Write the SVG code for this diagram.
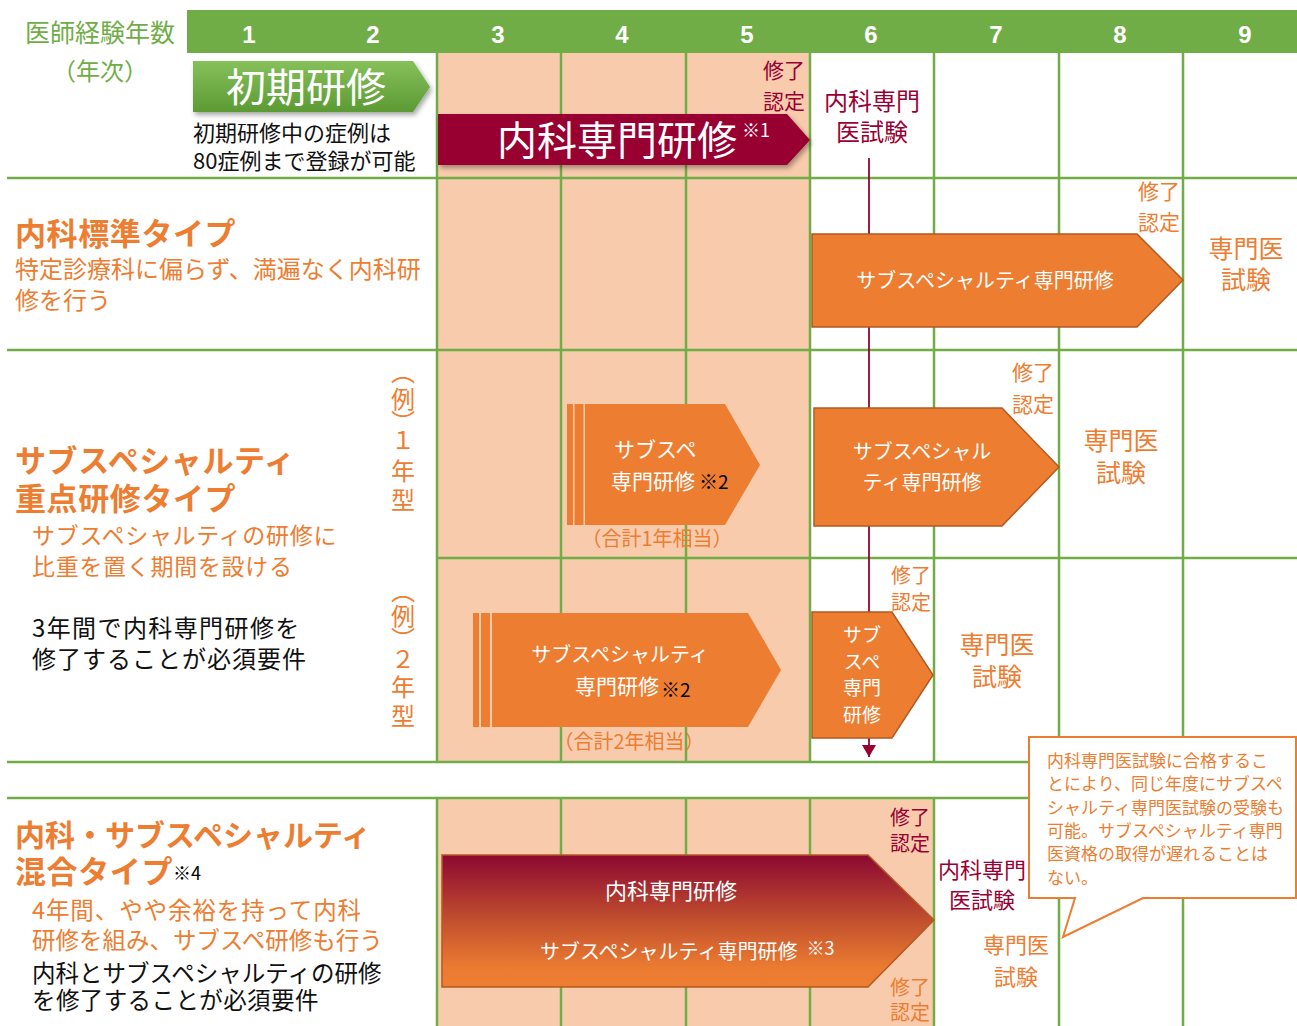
<svg xmlns="http://www.w3.org/2000/svg" width="1297" height="1026" viewBox="0 0 1297 1026">
<style>
text{font-family:"Noto Sans CJK JP","Noto Sans CJK SC",sans-serif;}
.num{font-family:"Liberation Sans",Arial,sans-serif;font-weight:bold;font-size:24px;fill:#fff;text-anchor:middle;}
.grid{stroke:#70AD47;stroke-width:2.5;fill:none;}
.or{fill:#ED7D31;}
.cr{fill:#990033;}
.bk{fill:#111;}
.wh{fill:#fff;}
.mid{text-anchor:middle;}
.ttl{font-size:31px;font-weight:bold;fill:#ED7D31;letter-spacing:0.6px;}
.arr{fill:#ED7D31;stroke:#B35A22;stroke-width:1.5;}
</style>
<defs>
<linearGradient id="gGreen" x1="0" y1="0" x2="0" y2="1">
<stop offset="0" stop-color="#86C05A"/>
<stop offset="1" stop-color="#5C9A35"/>
</linearGradient>
<linearGradient id="gMix" x1="0" y1="0" x2="0" y2="1">
<stop offset="0" stop-color="#8C0831"/>
<stop offset="0.5" stop-color="#C2502E"/>
<stop offset="0.85" stop-color="#EB7B31"/>
<stop offset="1" stop-color="#ED7D31"/>
</linearGradient>
<filter id="shadow" x="-5%" y="-20%" width="115%" height="150%">
<feDropShadow dx="2" dy="3" stdDeviation="2.5" flood-color="#000" flood-opacity="0.35"/>
</filter>
<marker id="ah" markerWidth="14" markerHeight="14" refX="12" refY="7" orient="auto" markerUnits="userSpaceOnUse" viewBox="0 0 14 14">
<path d="M0,0 L12,7 L0,14 Z" fill="#990033"/>
</marker>
</defs>

<rect width="1297" height="1026" fill="#fff"/>

<g id="background">
<rect x="437" y="53" width="373" height="709" fill="#F8CBAD"/>
<rect x="437" y="798" width="497" height="228" fill="#F8CBAD"/>
<rect x="187" y="10" width="1110" height="43" fill="#70AD47"/>
</g>

<g id="grid" class="grid">
<line x1="7" y1="178" x2="1297" y2="178"/>
<line x1="7" y1="350" x2="1297" y2="350"/>
<line x1="437" y1="558" x2="1297" y2="558"/>
<line x1="7" y1="762" x2="1297" y2="762"/>
<line x1="7" y1="798" x2="1297" y2="798"/>
<line x1="437" y1="53" x2="437" y2="762"/>
<line x1="561" y1="53" x2="561" y2="762"/>
<line x1="686" y1="53" x2="686" y2="762"/>
<line x1="810" y1="53" x2="810" y2="762"/>
<line x1="934" y1="53" x2="934" y2="762"/>
<line x1="1059" y1="53" x2="1059" y2="1026"/>
<line x1="1183" y1="53" x2="1183" y2="1026"/>
<line x1="437" y1="798" x2="437" y2="1026"/>
<line x1="561" y1="798" x2="561" y2="1026"/>
<line x1="686" y1="798" x2="686" y2="1026"/>
<line x1="810" y1="798" x2="810" y2="1026"/>
<line x1="934" y1="798" x2="934" y2="1026"/>
</g>

<g id="header">
<text fill="#70AD47" text-anchor="middle"><tspan x="100" y="42" font-size="25">医師経験年数</tspan><tspan x="100" y="80" font-size="24">（年次）</tspan></text>
<text class="num" x="249" y="43">1</text>
<text class="num" x="373" y="43">2</text>
<text class="num" x="498" y="43">3</text>
<text class="num" x="622" y="43">4</text>
<text class="num" x="747" y="43">5</text>
<text class="num" x="871" y="43">6</text>
<text class="num" x="996" y="43">7</text>
<text class="num" x="1120" y="43">8</text>
<text class="num" x="1245" y="43">9</text>
</g>

<g id="connectors">
<line x1="869" y1="158" x2="869" y2="757" stroke="#990033" stroke-width="1.8" marker-end="url(#ah)"/>
</g>

<g id="initial-training">
<path d="M193,61 H413 L430,87 L413,112 H193 Z" fill="url(#gGreen)" filter="url(#shadow)"/>
<text x="306" y="102" font-size="40" class="wh mid">初期研修</text>
<text font-size="22" class="bk"><tspan x="193" y="141">初期研修中の症例は</tspan><tspan x="193" y="169">80症例まで登録が可能</tspan></text>
</g>

<g id="naika-training">
<path d="M438,114 H787 L810,140 L787,165 H438 Z" fill="#990033" filter="url(#shadow)"/>
<text x="497" y="155" font-size="40" class="wh">内科専門研修<tspan font-size="18" dx="5" dy="-18">※1</tspan></text>
<text font-size="21" class="cr"><tspan x="763" y="78">修了</tspan><tspan x="763" y="109">認定</tspan></text>
<text font-size="24" class="cr mid"><tspan x="872" y="110">内科専門</tspan><tspan x="872" y="141">医試験</tspan></text>
</g>

<g id="standard-type">
<text class="or"><tspan x="15" y="245" class="ttl">内科標準タイプ</tspan><tspan x="15" y="278" font-size="24">特定診療科に偏らず、満遍なく内科研</tspan><tspan x="15" y="309" font-size="24">修を行う</tspan></text>
<path class="arr" d="M812,234 H1137 L1183,280 L1137,327 H812 Z"/>
<text x="985" y="288" font-size="20" class="wh mid">サブスペシャルティ専門研修</text>
<text font-size="21" class="or"><tspan x="1138" y="199">修了</tspan><tspan x="1138" y="230">認定</tspan></text>
<text font-size="25" class="or mid"><tspan x="1246" y="258">専門医</tspan><tspan x="1246" y="289">試験</tspan></text>
</g>

<g id="subspecialty-type">
<text class="or"><tspan x="15" y="472" class="ttl">サブスペシャルティ</tspan><tspan x="15" y="510" class="ttl">重点研修タイプ</tspan><tspan x="32" y="544" font-size="23" letter-spacing="0.7">サブスペシャルティの研修に</tspan><tspan x="32" y="575" font-size="23" letter-spacing="0.7">比重を置く期間を設ける</tspan><tspan x="32" y="637" font-size="24" class="bk" letter-spacing="1.4">3年間で内科専門研修を</tspan><tspan x="32" y="668" font-size="24" class="bk" letter-spacing="1">修了することが必須要件</tspan></text>
</g>

<g id="example-1year">
<text font-size="24" class="or mid" x="403 403 403 403 403 403" y="381 408 431 449 480 509">︵例︶１年型</text>
<rect x="567" y="404" width="6" height="121" fill="#ED7D31"/>
<rect x="574.5" y="404" width="9" height="121" fill="#ED7D31"/>
<path d="M585,404 H725 L760,465 L725,525 H585 Z" fill="#ED7D31"/>
<text font-size="21" class="wh"><tspan x="614" y="457">サブスペ</tspan><tspan x="611" y="489">専門研修</tspan><tspan font-size="19" fill="#000" dx="4">※2</tspan></text>
<text x="657" y="546" font-size="20" class="or mid">（合計1年相当）</text>
<path class="arr" d="M814,408 H1002 L1059,467 L1002,526 H814 Z"/>
<text font-size="20" class="wh mid"><tspan x="922" y="459">サブスペシャル</tspan><tspan x="922" y="490">ティ専門研修</tspan></text>
<text font-size="21" class="or"><tspan x="1012" y="380">修了</tspan><tspan x="1012" y="412">認定</tspan></text>
<text font-size="25" class="or mid"><tspan x="1121" y="450">専門医</tspan><tspan x="1121" y="482">試験</tspan></text>
</g>

<g id="example-2year">
<text font-size="24" class="or mid" x="403 403 403 403 403 403" y="600 625 648 668 696 725">︵例︶２年型</text>
<rect x="473" y="613" width="6" height="114" fill="#ED7D31"/>
<rect x="481" y="613" width="9" height="114" fill="#ED7D31"/>
<path d="M492,613 H748 L781,670 L748,727 H492 Z" fill="#ED7D31"/>
<text class="wh"><tspan x="620" y="662" font-size="20" text-anchor="middle">サブスペシャルティ</tspan><tspan x="575" y="694" font-size="21">専門研修</tspan><tspan font-size="19" fill="#000" dx="2" dy="3">※2</tspan></text>
<text x="629" y="749" font-size="20" class="or mid">（合計2年相当）</text>
<path class="arr" d="M812,612 H892 L933,675 L892,738 H812 Z"/>
<text font-size="19" class="wh mid"><tspan x="862" y="642">サブ</tspan><tspan x="862" y="669">スペ</tspan><tspan x="862" y="695">専門</tspan><tspan x="862" y="722">研修</tspan></text>
<text font-size="20" class="or"><tspan x="891" y="583">修了</tspan><tspan x="891" y="610">認定</tspan></text>
<text font-size="25" class="or mid"><tspan x="997" y="654">専門医</tspan><tspan x="997" y="686">試験</tspan></text>
</g>

<g id="mixed-type">
<text class="or"><tspan x="15" y="846" class="ttl" style="letter-spacing:0;font-size:30px">内科・サブスペシャルティ</tspan><tspan x="15" y="883" class="ttl">混合タイプ</tspan><tspan font-size="18" fill="#000" dy="-3">※4</tspan><tspan x="32" y="919" font-size="23.5" letter-spacing="0.9">4年間、やや余裕を持って内科</tspan><tspan x="32" y="949" font-size="23.5">研修を組み、サブスペ研修も行う</tspan><tspan x="32" y="982" font-size="23.5" class="bk">内科とサブスペシャルティの研修</tspan><tspan x="32" y="1009" font-size="23.5" class="bk" letter-spacing="0.4">を修了することが必須要件</tspan></text>
<path d="M442,855 H868 L934,920 L868,987 H442 Z" fill="url(#gMix)" stroke="#B35A22" stroke-width="1.5"/>
<text x="671" y="899" font-size="22" class="wh mid">内科専門研修</text>
<text x="540" y="959" font-size="20" class="wh">サブスペシャルティ専門研修<tspan font-size="18" dx="9" dy="-4">※3</tspan></text>
<text font-size="20" class="cr"><tspan x="890" y="825">修了</tspan><tspan x="890" y="851">認定</tspan></text>
<text font-size="20" class="or"><tspan x="890" y="995">修了</tspan><tspan x="890" y="1020">認定</tspan></text>
<text font-size="22" class="cr mid"><tspan x="982" y="878">内科専門</tspan><tspan x="982" y="908">医試験</tspan></text>
<text font-size="22" class="or mid"><tspan x="1016" y="953">専門医</tspan><tspan x="1016" y="985">試験</tspan></text>
</g>

<g id="callout">
<path d="M1029,737 H1296 V898 H1143 L1063,937 L1075,898 H1029 Z" fill="#fff" stroke="#ED7D31" stroke-width="2"/>
<text font-size="17" class="or"><tspan x="1047" y="767">内科専門医試験に合格するこ</tspan><tspan x="1047" y="790">とにより、同じ年度にサブスペ</tspan><tspan x="1047" y="814">シャルティ専門医試験の受験も</tspan><tspan x="1047" y="837">可能。サブスペシャルティ専門</tspan><tspan x="1047" y="860">医資格の取得が遅れることは</tspan><tspan x="1047" y="884">ない。</tspan></text>
</g>
</svg>
